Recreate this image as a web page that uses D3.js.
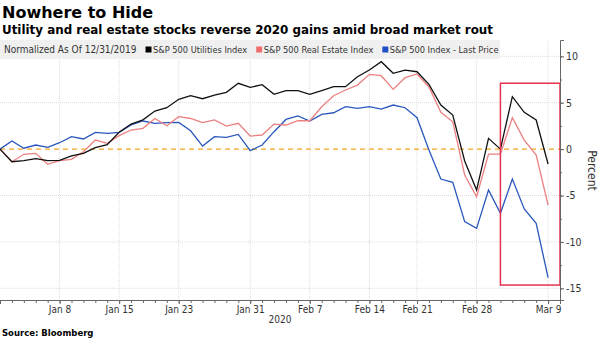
<!DOCTYPE html>
<html>
<head>
<meta charset="utf-8">
<script src="https://cdn.jsdelivr.net/npm/d3@7"></script>
<style>
body { margin: 0; background: #fff; }
text { font-family: "DejaVu Sans Condensed", "DejaVu Sans", sans-serif; }
</style>
</head>
<body>
<div id="container"></div>
<script>
// trading days, Dec 31 2019 .. Mar 9 2020
var days = ["2019-12-31",
	"2020-01-02","2020-01-03","2020-01-06","2020-01-07","2020-01-08","2020-01-09","2020-01-10",
	"2020-01-13","2020-01-14","2020-01-15","2020-01-16","2020-01-17","2020-01-21","2020-01-22",
	"2020-01-23","2020-01-24","2020-01-27","2020-01-28","2020-01-29","2020-01-30","2020-01-31",
	"2020-02-03","2020-02-04","2020-02-05","2020-02-06","2020-02-07","2020-02-10","2020-02-11",
	"2020-02-12","2020-02-13","2020-02-14","2020-02-18","2020-02-19","2020-02-20","2020-02-21",
	"2020-02-24","2020-02-25","2020-02-26","2020-02-27","2020-02-28","2020-03-02","2020-03-03",
	"2020-03-04","2020-03-05","2020-03-06","2020-03-09"];

var utilities = [0, -1.36, -1.25, -1.03, -1.25, -1.21, -0.74, -0.46, 0.16, 0.48, 1.81,
	2.7, 3.15, 4.1, 4.46, 5.37, 5.76, 5.43, 5.83, 6.12, 7.09, 6.66, 6.94, 5.9, 6.3, 6.3,
	5.9, 6.3, 6.73, 6.73, 7.8, 8.52, 9.42, 8.17, 8.52, 8.34, 6.98, 4.75, 3.67, -1.28,
	-4.41, 1.16, 0.0, 5.65, 3.96, 3.14, -1.6];

var realEstate = [0, -1.36, -0.56, -0.46, -1.64, -1.25, -1.1, -0.28, 0.98, 0.62, 1.45,
	2.06, 2.24, 3.3, 2.52, 3.5, 3.3, 2.85, 3.14, 2.49, 2.78, 1.41, 1.52, 2.7, 2.6, 3.06,
	3.06, 4.57, 5.76, 6.37, 6.9, 8.06, 7.91, 6.44, 7.7, 8.1, 6.7, 3.96, 2.95, -2.79,
	-5.13, -0.53, -0.53, 3.38, 0.98, -0.64, -6.02];

var spx = [0, 0.87, 0.1, 0.44, 0.19, 0.69, 1.34, 1.09, 1.81, 1.7, 1.81,
	2.6, 3.03, 2.78, 2.85, 2.88, 1.98, 0.33, 1.34, 1.27, 1.59, -0.17, 0.44, 1.88, 3.2, 3.57,
	3.03, 3.75, 3.92, 4.57, 4.4, 4.57, 4.32, 4.75, 4.46, 3.38, -0.1, -3.22, -3.58, -7.82,
	-8.54, -4.41, -6.92, -3.22, -6.45, -8.0, -13.86];

var tickDays = ["2020-01-08","2020-01-15","2020-01-23","2020-01-31","2020-02-07",
	"2020-02-14","2020-02-21","2020-02-28","2020-03-09"];
var yTicks = [10, 5, 0, -5, -10, -15];
var seriesNames = ["S&P 500 Utilities Index", "S&P 500 Real Estate Index", "S&P 500 Index - Last Price"];
var seriesColors = ["#000000", "#f06b6b", "#1f4fc4"];
var lineColors = ["#111111", "#ec8080", "#2a57bd"];
// highlight box: [from day, to day] x [top, bottom] percent
var boxDays = ["2020-03-03", "2020-03-10"];
var boxRange = [7.1, -14.65];

var margin = {top: 40, right: 40, bottom: 38, left: 0};
var width = 600 - margin.left - margin.right;
var height = 338 - margin.top - margin.bottom;

var parse = d3.timeParse("%Y-%m-%d");
var fmt = d3.timeFormat("%b %-d");
var dayIndex = d => { var i = days.indexOf(d); return i < 0 ? days.length : i; };

var x = d3.scaleLinear().domain([0, days.length]).range([0, width]);
var y = d3.scaleLinear().domain([-16.26, 11.76]).range([height, 0]);

var svg = d3.select("#container").append("svg")
	.attr("width", 600)
	.attr("height", 338);

// titles
svg.append("text")
	.attr("x", 2).attr("y", 18)
	.style("font-family", "'DejaVu Sans', sans-serif")
	.style("font-weight", "bold").style("font-size", "16px")
	.text("Nowhere to Hide");
svg.append("text")
	.attr("x", 2).attr("y", 34)
	.style("font-family", "'DejaVu Sans', sans-serif")
	.style("font-weight", "bold").style("font-size", "11.9px")
	.text("Utility and real estate stocks reverse 2020 gains amid broad market rout");

var g = svg.append("g")
	.attr("transform", "translate(" + margin.left + "," + margin.top + ")");

// grid
g.selectAll(".vgrid")
	.data(tickDays)
	.enter().append("line")
	.attr("x1", d => x(dayIndex(d))).attr("x2", d => x(dayIndex(d)))
	.attr("y1", 0).attr("y2", height)
	.attr("stroke", "#dcdcdc").attr("stroke-dasharray", "1,1");
g.selectAll(".hgrid")
	.data(yTicks.filter(d => d != 0))
	.enter().append("line")
	.attr("x1", 0).attr("x2", width)
	.attr("y1", d => y(d)).attr("y2", d => y(d))
	.attr("stroke", "#dcdcdc").attr("stroke-dasharray", "1,1");

// legend bar
var legend = g.append("g");
legend.append("rect")
	.attr("x", 0).attr("y", 0).attr("width", 500).attr("height", 19)
	.attr("fill", "#f0f0f0");
var lx = legend.append("text")
	.attr("x", 4).attr("y", 13)
	.style("font-size", "10px").style("fill", "#333")
	.text("Normalized As Of 12/31/2019");
var pos = 4 + lx.node().getComputedTextLength() + 9;
seriesNames.forEach((name, k) => {
	legend.append("rect")
		.attr("x", pos).attr("y", 6.5).attr("width", 6).attr("height", 6)
		.attr("fill", seriesColors[k]);
	var t = legend.append("text")
		.attr("x", pos + 7.5).attr("y", 13)
		.style("font-size", "9.2px").style("fill", "#333")
		.text(name);
	pos += 7.5 + t.node().getComputedTextLength() + 9;
});

// zero line
g.append("line")
	.attr("x1", 0).attr("x2", width)
	.attr("y1", y(0)).attr("y2", y(0))
	.attr("stroke", "#f5a623").attr("stroke-width", 1.2)
	.attr("stroke-dasharray", "5,4");

// series
var line = d3.line()
	.x((d, i) => x(i))
	.y(d => y(d));

[spx, realEstate, utilities].forEach((s, k) => {
	g.append("path")
		.attr("d", line(s))
		.attr("fill", "none")
		.attr("stroke", lineColors[2 - k])
		.attr("stroke-width", 1.3);
});

// highlight box
g.append("rect")
	.attr("x", x(dayIndex(boxDays[0])))
	.attr("y", y(boxRange[0]))
	.attr("width", x(dayIndex(boxDays[1])) - x(dayIndex(boxDays[0])))
	.attr("height", y(boxRange[1]) - y(boxRange[0]))
	.attr("fill", "none")
	.attr("stroke", "#e4334e")
	.attr("stroke-width", 1.5);

// axes
var minorX = g.append("g")
	.attr("transform", "translate(0," + height + ")")
	.call(d3.axisBottom(x).tickValues(d3.range(0, days.length + 1)).tickSize(3).tickFormat(""));
minorX.select(".domain").remove();
minorX.selectAll("line").attr("stroke", "#666");

var gx = g.append("g")
	.attr("transform", "translate(0," + height + ")")
	.call(d3.axisBottom(x)
		.tickValues(tickDays.map(dayIndex))
		.tickSize(4)
		.tickPadding(2)
		.tickFormat(i => fmt(parse(days[i]))));
gx.select(".domain").attr("stroke", "#666");
gx.selectAll("line").attr("stroke", "#666");
gx.selectAll("text")
	.style("font-family", "'DejaVu Sans Condensed', 'DejaVu Sans', sans-serif")
	.style("font-size", "10px").style("fill", "#333");

g.append("text")
	.attr("x", 280).attr("y", height + 23)
	.attr("text-anchor", "middle")
	.style("font-size", "10px").style("fill", "#333")
	.text("2020");

var minorY = g.append("g")
	.attr("transform", "translate(" + width + ",0)")
	.call(d3.axisRight(y).tickValues(d3.range(-15, 11, 2.5)).tickSize(2).tickFormat(""));
minorY.select(".domain").remove();
minorY.selectAll("line").attr("stroke", "#666");

var gy = g.append("g")
	.attr("transform", "translate(" + width + ",0)")
	.call(d3.axisRight(y)
		.tickValues(yTicks)
		.tickSize(4)
		.tickPadding(2)
		.tickFormat(d => String(d)));
gy.select(".domain").attr("stroke", "#666");
gy.selectAll("line").attr("stroke", "#666");
gy.selectAll("text")
	.style("font-family", "'DejaVu Sans Condensed', 'DejaVu Sans', sans-serif")
	.style("font-size", "10.5px").style("fill", "#333");

g.append("text")
	.attr("transform", "translate(" + (width + 28) + "," + y(-2.3) + ") rotate(90)")
	.attr("text-anchor", "middle")
	.style("font-size", "12px").style("fill", "#333")
	.text("Percent");

// source
svg.append("text")
	.attr("x", 2).attr("y", 336)
	.style("font-family", "'DejaVu Sans', sans-serif")
	.style("font-weight", "bold").style("font-size", "8.5px")
	.text("Source: Bloomberg");
</script>
</body>
</html>
